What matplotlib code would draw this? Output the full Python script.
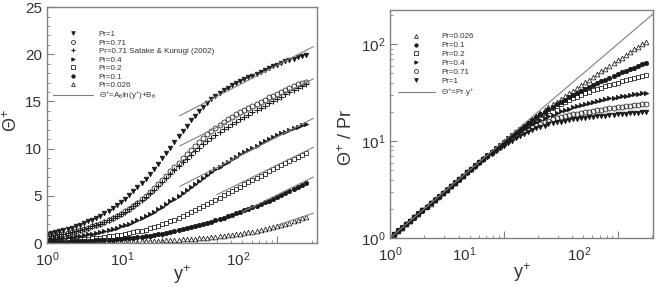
import matplotlib
matplotlib.use("Agg")
from matplotlib import pyplot as plt
from matplotlib.ticker import LogLocator, NullFormatter, MultipleLocator
import numpy as np

plt.rcParams['font.family'] = ['Liberation Sans', 'DejaVu Sans']
plt.rcParams['mathtext.fontset'] = 'custom'
plt.rcParams['mathtext.rm'] = 'Liberation Sans'
plt.rcParams['mathtext.it'] = 'Liberation Sans:italic'
plt.rcParams['mathtext.default'] = 'regular'

# wall distance y+ of the plotted points
y_plus = [1.00, 1.09, 1.18, 1.28, 1.39, 1.51, 1.64, 1.78, 1.93, 2.10, 2.28, 2.47, 2.68,
          2.91, 3.16, 3.43, 3.73, 4.05, 4.39, 4.77, 5.18, 5.62, 6.10, 6.63, 7.19,
          7.81, 8.48, 9.21, 10.0, 10.9, 11.8, 12.8, 13.9, 15.1, 16.4, 17.8, 19.3,
          21.0, 22.8, 24.7, 26.8, 29.1, 31.6, 34.3, 37.3, 40.5, 43.9, 47.7, 51.8,
          56.2, 61.0, 66.3, 71.9, 78.1, 84.8, 92.1, 100, 108.6, 117.9, 128.0,
          139.0, 150.9, 163.8, 177.9]

theta_pr1 = [1.00, 1.09, 1.18, 1.28, 1.39, 1.51, 1.64, 1.78, 1.93, 2.10, 2.28, 2.47,
             2.68, 2.90, 3.15, 3.41, 3.70, 4.01, 4.33, 4.68, 5.06, 5.46, 5.89, 6.35,
             6.83, 7.33, 7.86, 8.41, 8.98, 9.55, 10.1, 10.7, 11.3, 11.9, 12.45,
             13.0, 13.5, 14.0, 14.45, 14.85, 15.25, 15.6, 15.9, 16.2, 16.45, 16.7,
             16.95, 17.15, 17.35, 17.55, 17.75, 17.95, 18.15, 18.35, 18.55, 18.75,
             18.9, 19.1, 19.25, 19.4, 19.55, 19.7, 19.85, 19.95]
theta_pr071 = [0.71, 0.77, 0.84, 0.91, 0.99, 1.07, 1.16, 1.26, 1.37, 1.49, 1.62, 1.75,
               1.90, 2.06, 2.24, 2.43, 2.64, 2.87, 3.11, 3.37, 3.65, 3.95, 4.27, 4.62,
               4.99, 5.38, 5.79, 6.22, 6.66, 7.12, 7.58, 8.05, 8.52, 8.99, 9.45,
               9.9, 10.33, 10.75, 11.15, 11.52, 11.88, 12.22, 12.53, 12.83, 13.1,
               13.37, 13.62, 13.86, 14.1, 14.33, 14.55, 14.77, 14.98, 15.2, 15.42,
               15.63, 15.83, 16.03, 16.23, 16.43, 16.62, 16.8, 16.96, 17.1]
theta_satake = [0.71, 0.77, 0.84, 0.91, 0.99, 1.07, 1.16, 1.26, 1.37, 1.49, 1.62, 1.75,
                1.90, 2.06, 2.24, 2.43, 2.63, 2.85, 3.08, 3.33, 3.6, 3.89, 4.2, 4.53,
                4.88, 5.25, 5.63, 6.03, 6.44, 6.86, 7.28, 7.7, 8.12, 8.54, 8.95,
                9.35, 9.74, 10.12, 10.48, 10.82, 11.15, 11.47, 11.77, 12.06, 12.34,
                12.61, 12.87, 13.12, 13.37, 13.61, 13.85, 14.09, 14.33, 14.57, 14.81,
                15.05, 15.29, 15.52, 15.75, 15.98, 16.2, 16.42, 16.63, 16.85]
theta_pr04 = [0.40, 0.44, 0.47, 0.51, 0.56, 0.60, 0.66, 0.71, 0.77, 0.84, 0.91, 0.99,
              1.07, 1.16, 1.26, 1.37, 1.49, 1.62, 1.75, 1.9, 2.06, 2.23, 2.42, 2.62,
              2.83, 3.06, 3.3, 3.56, 3.83, 4.11, 4.4, 4.7, 5.01, 5.33, 5.65, 5.97,
              6.29, 6.61, 6.92, 7.22, 7.52, 7.81, 8.09, 8.36, 8.63, 8.89, 9.14, 9.39,
              9.63, 9.87, 10.1, 10.33, 10.56, 10.78, 11.0, 11.21, 11.42, 11.62,
              11.81, 11.99, 12.16, 12.32, 12.46, 12.58]
theta_pr02 = [0.20, 0.22, 0.24, 0.26, 0.28, 0.30, 0.33, 0.36, 0.39, 0.42, 0.46, 0.49,
              0.54, 0.58, 0.63, 0.69, 0.75, 0.81, 0.88, 0.95, 1.04, 1.12, 1.22, 1.32,
              1.43, 1.55, 1.68, 1.82, 1.97, 2.13, 2.29, 2.47, 2.65, 2.85, 3.05, 3.26,
              3.47, 3.69, 3.91, 4.13, 4.36, 4.59, 4.82, 5.05, 5.29, 5.52, 5.75, 5.98,
              6.21, 6.44, 6.67, 6.9, 7.13, 7.36, 7.59, 7.82, 8.04, 8.26, 8.48, 8.7,
              8.92, 9.13, 9.33, 9.52]
theta_pr01 = [0.10, 0.11, 0.12, 0.13, 0.14, 0.15, 0.16, 0.18, 0.19, 0.21, 0.23, 0.25,
              0.27, 0.29, 0.32, 0.34, 0.37, 0.40, 0.44, 0.48, 0.52, 0.56, 0.61, 0.66,
              0.72, 0.78, 0.84, 0.91, 0.99, 1.07, 1.15, 1.24, 1.34, 1.44, 1.55, 1.66,
              1.77, 1.89, 2.01, 2.14, 2.27, 2.4, 2.54, 2.68, 2.83, 2.98, 3.13, 3.29,
              3.45, 3.61, 3.78, 3.95, 4.13, 4.31, 4.5, 4.7, 4.9, 5.1, 5.31, 5.52,
              5.74, 5.96, 6.17, 6.38]
theta_pr0026 = [0.026, 0.028, 0.031, 0.033, 0.036, 0.039, 0.043, 0.046, 0.05, 0.055,
                0.059, 0.064, 0.07, 0.076, 0.082, 0.089, 0.097, 0.105, 0.114, 0.124,
                0.135, 0.146, 0.159, 0.172, 0.187, 0.203, 0.22, 0.238, 0.258, 0.28,
                0.302, 0.326, 0.352, 0.38, 0.41, 0.44, 0.472, 0.507, 0.543, 0.58,
                0.62, 0.663, 0.708, 0.756, 0.807, 0.862, 0.92, 0.982, 1.048, 1.118,
                1.193, 1.273, 1.358, 1.45, 1.55, 1.655, 1.77, 1.89, 2.02, 2.16, 2.3,
                2.45, 2.6, 2.76]

# log-law fits  theta+ = A ln(y+) + B  (drawn from y_start to y_end)
law_A = [2.74, 2.66, 2.70, 2.60, 2.60, 1.75]
law_B = [6.21, 3.22, -1.18, -3.72, -6.87, -6.17]
law_start = [14.3, 14.3, 14.3, 30.0, 50.0, 100.0]
law_end = 206.0

pr_values = [1, 0.71, 0.4, 0.2, 0.1, 0.026]
pr_labels = ['Pr=1', 'Pr=0.71', 'Pr=0.4', 'Pr=0.2', 'Pr=0.1', 'Pr=0.026']
series = [theta_pr1, theta_pr071, theta_pr04, theta_pr02, theta_pr01, theta_pr0026]

ink = '#1a1a1a'
grey = '#808080'
txt = '#333333'
styles = {
    'Pr=1': dict(marker='v', mfc=ink, ms=3.3),
    'Pr=0.71': dict(marker='o', mfc='none', ms=3.6),
    'Pr=0.4': dict(marker='>', mfc=ink, ms=3.1),
    'Pr=0.2': dict(marker='s', mfc='none', ms=3.1),
    'Pr=0.1': dict(marker='o', mfc=ink, ms=3.1),
    'Pr=0.026': dict(marker='^', mfc='none', ms=3.4),
}

xtick_text = ['$10^{0}$', '$10^{1}$', '$10^{2}$']
xtick_text_pos = [1.0, 4.5, 46.0]


def style_axes(ax, xmax):
    for s in ax.spines.values():
        s.set_color(grey)
        s.set_linewidth(1.0)
    ax.set_xscale('log')
    ax.set_xlim(1, xmax)
    ax.xaxis.set_major_locator(LogLocator(base=10, numticks=5))
    ax.xaxis.set_minor_locator(LogLocator(base=10, subs=np.arange(2, 10), numticks=20))
    ax.xaxis.set_major_formatter(NullFormatter())
    ax.xaxis.set_minor_formatter(NullFormatter())
    ax.tick_params(axis='both', which='major', direction='in', length=5, color=grey,
                   labelsize=11, labelcolor=txt)
    ax.tick_params(axis='both', which='minor', direction='in', length=2.5, color=grey)
    for xv, t in zip(xtick_text_pos, xtick_text):
        ax.text(xv, -0.032, t, transform=ax.get_xaxis_transform(), ha='center',
                va='top', fontsize=11, color=txt)
    ax.set_xlabel('$y^{+}$', fontsize=13, color=txt)


fig = plt.figure(figsize=(6.56, 2.87), dpi=100)

# ---- left: theta+ vs y+
ax1 = fig.add_axes([0.0716, 0.1533, 0.4116, 0.822])
style_axes(ax1, 222)
ax1.xaxis.set_label_coords(0.5, -0.085)
ax1.set_ylim(0, 25)
ax1.yaxis.set_major_locator(MultipleLocator(5))
ax1.yaxis.set_minor_locator(MultipleLocator(1))
ax1.set_ylabel('$\\Theta^{+}$', fontsize=13, color=txt)
ax1.yaxis.set_label_coords(-0.095, 0.52)

h = {}
for lab, th in zip(pr_labels, series):
    h[lab], = ax1.plot(y_plus, th, ls='none', color=ink, mec=ink, mew=0.55,
                       **styles[lab])
h_sk, = ax1.plot(y_plus, theta_satake, ls='none', marker='+', ms=3.8, mew=0.8,
                 color=ink)
for A, B, y0 in zip(law_A, law_B, law_start):
    yy = np.array([y0, law_end])
    h_law, = ax1.plot(yy, A * np.log(yy) + B, color=grey, lw=0.8)
order1 = [h['Pr=1'], h['Pr=0.71'], h_sk, h['Pr=0.4'], h['Pr=0.2'], h['Pr=0.1'],
          h['Pr=0.026'], h_law]
labels1 = ['Pr=1', 'Pr=0.71', 'Pr=0.71 Satake & Kunugi (2002)', 'Pr=0.4', 'Pr=0.2',
           'Pr=0.1', 'Pr=0.026', '$\\Theta^{+}$=A$_{\\theta}$ln(y$^{+}$)+B$_{\\theta}$']
ax1.legend(order1, labels1, loc='upper left', bbox_to_anchor=(0.022, 0.9),
           frameon=False, fontsize=5.8, handlelength=5.0, handletextpad=0.7,
           labelspacing=0.1, borderpad=0, borderaxespad=0, markerscale=0.8,
           labelcolor=txt)

# ---- right: theta+/Pr vs y+
ax2 = fig.add_axes([0.5945, 0.1707, 0.401, 0.7944])
style_axes(ax2, 205)
ax2.xaxis.set_label_coords(0.5, -0.10)
ax2.set_yscale('log')
ax2.set_ylim(1, 225)
ax2.yaxis.set_minor_locator(LogLocator(base=10, subs=np.arange(2, 10), numticks=20))
ax2.yaxis.set_minor_formatter(NullFormatter())
ax2.set_ylabel('$\\Theta^{+}$ / Pr', fontsize=13, color=txt)
ax2.yaxis.set_label_coords(-0.128, 0.44)

h2 = {}
for lab, pr, th in zip(pr_labels, pr_values, series):
    h2[lab], = ax2.plot(y_plus, np.array(th) / pr, ls='none', color=ink, mec=ink,
                        mew=0.55, **styles[lab])
yl = np.array([1.0, 300.0])
h_lin, = ax2.plot(yl, yl, color=grey, lw=0.8)
order2 = [h2['Pr=0.026'], h2['Pr=0.1'], h2['Pr=0.2'], h2['Pr=0.4'], h2['Pr=0.71'],
          h2['Pr=1'], h_lin]
labels2 = ['Pr=0.026', 'Pr=0.1', 'Pr=0.2', 'Pr=0.4', 'Pr=0.71', 'Pr=1',
           '$\\Theta^{+}$=Pr.y$^{+}$']
ax2.legend(order2, labels2, loc='upper left', bbox_to_anchor=(0.03, 0.9),
           frameon=False, fontsize=5.8, handlelength=4.6, handletextpad=0.8,
           labelspacing=0.16, borderpad=0, borderaxespad=0, markerscale=0.8,
           labelcolor=txt)

fig.savefig('out.png', dpi=100)
